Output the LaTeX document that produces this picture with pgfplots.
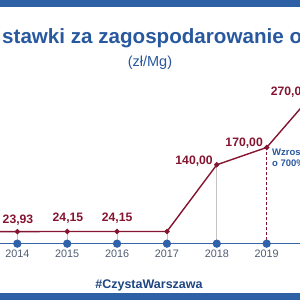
\documentclass[border=0pt]{standalone}
\usepackage{fontspec}
\setmainfont{Liberation Sans}
\usepackage{pgfplots}
\pgfplotsset{compat=1.18}
\definecolor{bandblue}{RGB}{46,96,166}
\definecolor{titleblue}{RGB}{40,88,158}
\definecolor{lineblue}{RGB}{52,100,168}
\definecolor{dotblue}{RGB}{48,98,170}
\definecolor{maroon}{RGB}{132,20,48}
\definecolor{yeargray}{RGB}{78,92,112}
\definecolor{hashblue}{RGB}{30,70,130}
\begin{document}
\begin{tikzpicture}
\path[use as bounding box] (0,0) rectangle (300pt,300pt);
\clip (0,0) rectangle (300pt,300pt);
\begin{axis}[
  at={(0,0)}, anchor=south west,
  scale only axis, width=300pt, height=300pt,
  xmin=2013.653, xmax=2019.668,
  ymin=-94.8, ymax=426,
  hide axis, clip=true,
]
% bands
\fill[bandblue] (rel axis cs:0,0.9767) rectangle (rel axis cs:1,1);
\fill[bandblue] (rel axis cs:0,0) rectangle (rel axis cs:1,0.0233);
% drop lines
\addplot[ycomb, draw={rgb,255:red,195;green,195;blue,195}, line width=0.8pt, no marks] coordinates {
 (2014,23.93) (2015,24.15) (2016,24.15) (2017,24.15) (2018,140)};
\addplot[ycomb, draw=maroon, line width=1.4pt, dash pattern=on 3pt off 2pt, no marks] coordinates {(2019,170)};
% timeline
\addplot[lineblue, line width=1.6pt, mark=*, mark size=3.3pt, mark options={fill=dotblue, draw=dotblue}] coordinates {
 (2013,3) (2014,3) (2015,3) (2016,3) (2017,3) (2018,3) (2019,3) (2020,3)};
% rate
\addplot[maroon, line width=1.4pt, mark=*, mark size=1.9pt, mark options={fill=maroon}] coordinates {
 (2013,23.5) (2014,23.93) (2015,24.15) (2016,24.15) (2017,24.15) (2018,140) (2019,170) (2020,270)};
% title
\node[anchor=base west, inner sep=0pt, text=titleblue, font=\fontsize{20.6}{24}\selectfont\bfseries] at (axis cs:2013.693,350.5) {stawki za zagospodarowanie odpadów};
\node[inner sep=0pt, text=titleblue, font=\fontsize{14.5}{17}\selectfont] at (axis cs:2016.660,316.7) {(zł/Mg)};
% year labels
\node[inner sep=0pt, text=yeargray, font=\fontsize{10.8}{12}\selectfont] at (axis cs:2014,-14.9) {2014};
\node[inner sep=0pt, text=yeargray, font=\fontsize{10.8}{12}\selectfont] at (axis cs:2015,-14.9) {2015};
\node[inner sep=0pt, text=yeargray, font=\fontsize{10.8}{12}\selectfont] at (axis cs:2016,-14.9) {2016};
\node[inner sep=0pt, text=yeargray, font=\fontsize{10.8}{12}\selectfont] at (axis cs:2017,-14.9) {2017};
\node[inner sep=0pt, text=yeargray, font=\fontsize{10.8}{12}\selectfont] at (axis cs:2018,-14.9) {2018};
\node[inner sep=0pt, text=yeargray, font=\fontsize{10.8}{12}\selectfont] at (axis cs:2019,-14.9) {2019};
% value labels
\node[inner sep=0pt, text=maroon, font=\fontsize{12.2}{14}\selectfont\bfseries] at (axis cs:2014.014,44.1) {23,93};
\node[inner sep=0pt, text=maroon, font=\fontsize{12.2}{14}\selectfont\bfseries] at (axis cs:2015.016,47.6) {24,15};
\node[inner sep=0pt, text=maroon, font=\fontsize{12.2}{14}\selectfont\bfseries] at (axis cs:2016.0,47.6) {24,15};
\node[anchor=east, inner sep=0pt, text=maroon, font=\fontsize{12.2}{14}\selectfont\bfseries] at (axis cs:2017.923,146.5) {140,00};
\node[anchor=east, inner sep=0pt, text=maroon, font=\fontsize{12.2}{14}\selectfont\bfseries] at (axis cs:2018.926,177.8) {170,00};
\node[anchor=west, inner sep=0pt, text=maroon, font=\fontsize{12.2}{14}\selectfont\bfseries] at (axis cs:2019.080,266.3) {270,00};
\node[anchor=west, inner sep=0pt, text=titleblue, font=\fontsize{9.5}{11}\selectfont\bfseries] at (axis cs:2019.106,162.2) {Wzrost};
\node[anchor=west, inner sep=0pt, text=titleblue, font=\fontsize{9.5}{11}\selectfont\bfseries] at (axis cs:2019.106,143.1) {o 700\%};
% hashtag
\node[inner sep=0pt, text=hashblue, font=\fontsize{12.5}{15}\selectfont\bfseries] at (axis cs:2016.640,-68.8) {\#CzystaWarszawa};
\end{axis}
\end{tikzpicture}
\end{document}
